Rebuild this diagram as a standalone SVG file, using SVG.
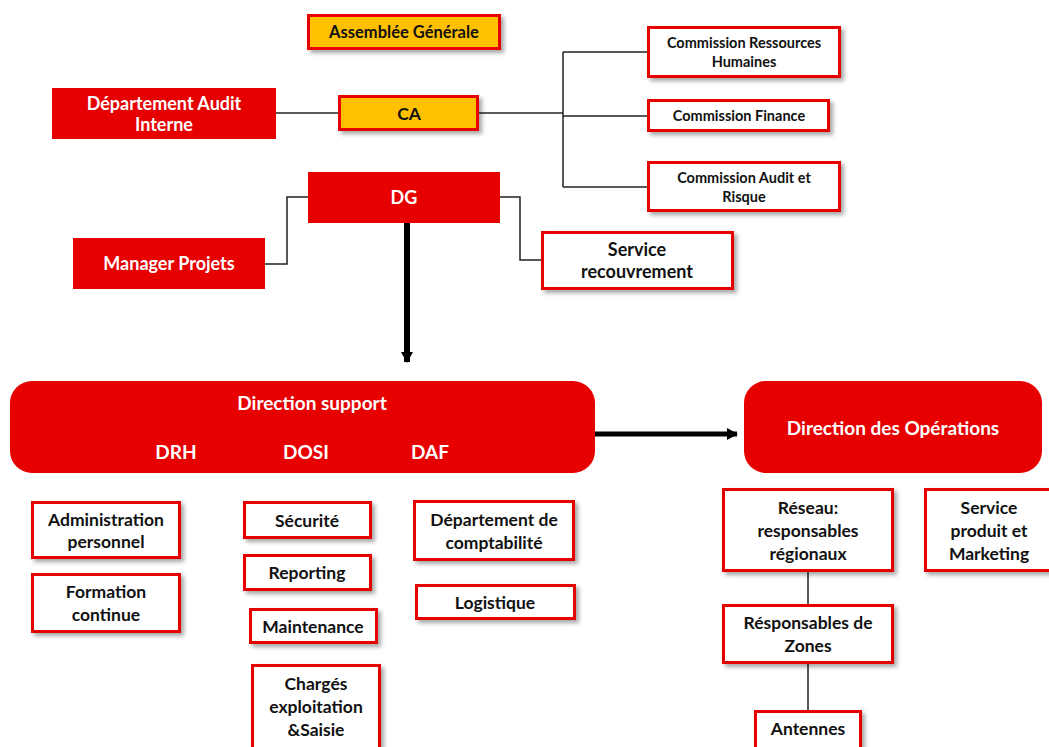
<svg xmlns="http://www.w3.org/2000/svg" width="1049" height="747" viewBox="0 0 1049 747">
<defs>
<style>
text{font-family:Lato,"Open Sans","Liberation Sans",sans-serif;font-weight:700;text-anchor:middle;}
.w{fill:#fff;}
.k{fill:#111;}
.f13{font-size:14.5px;}
.f15{font-size:16.5px;}
.f16{font-size:17.5px;}
.f18{font-size:18px;}
.f17{font-size:19px;}
.red{fill:#e60000;}
.box{fill:#fff;stroke:#e60000;stroke-width:3;filter:url(#sh);}
.gold{fill:#ffc000;stroke:#e60000;stroke-width:3;filter:url(#sh);}
.ln{fill:none;stroke:#222;stroke-width:1.5;}
.thick{fill:none;stroke:#000;}
</style>
<filter id="sh" x="-10%" y="-10%" width="130%" height="140%">
<feDropShadow dx="3" dy="3" stdDeviation="2" flood-color="#000" flood-opacity="0.35"/>
</filter>
<marker id="ah" markerUnits="userSpaceOnUse" markerWidth="14" markerHeight="14" refX="10" refY="7" orient="auto">
<path d="M0,1 L11,7 L0,13 Z" fill="#000"/>
</marker>
</defs>

<g id="connectors">
<path class="ln" d="M276 113 H338"/>
<path class="ln" d="M479 113 H563"/>
<path class="ln" d="M563 52 V187"/>
<path class="ln" d="M563 52 H648"/>
<path class="ln" d="M563 116 H648"/>
<path class="ln" d="M563 187 H648"/>
<path class="ln" d="M308 197 H287 V264 H265"/>
<path class="ln" d="M500 197 H520 V260 H541"/>
<path class="ln" d="M808 572 V604"/>
<path class="ln" d="M808 664 V710"/>
<path class="thick" stroke-width="6" d="M407 223 V362" marker-end="url(#ah)"/>
<path class="thick" stroke-width="5" d="M595 434 H737" marker-end="url(#ah)"/>
</g>

<g id="assemblee"><rect class="gold" x="308.5" y="15.5" width="191" height="33"/><text class="k f15" x="404" y="38">Assemblée Générale</text></g>
<g id="audit-interne"><rect class="red" x="52" y="88" width="224" height="51"/><text class="w f18" x="164" y="109.5">Département Audit</text><text class="w f18" x="164" y="130.5">Interne</text></g>
<g id="ca"><rect class="gold" x="339.5" y="96.5" width="138" height="33"/><text class="k f16" x="409" y="119.5">CA</text></g>
<g id="comm-rh"><rect class="box" x="648.5" y="27.5" width="191" height="49"/><text class="k f13" x="744" y="48">Commission Ressources</text><text class="k f13" x="744" y="66.5">Humaines</text></g>
<g id="comm-finance"><rect class="box" x="648.5" y="100.5" width="180" height="30"/><text class="k f13" x="739" y="121">Commission Finance</text></g>
<g id="comm-audit"><rect class="box" x="648.5" y="162.5" width="191" height="48"/><text class="k f13" x="744" y="183">Commission Audit et</text><text class="k f13" x="744" y="201.5">Risque</text></g>
<g id="dg"><rect class="red" x="308" y="172" width="192" height="51"/><text class="w f18" x="404" y="204">DG</text></g>
<g id="manager"><rect class="red" x="73" y="238" width="192" height="51"/><text class="w f18" x="169" y="270">Manager Projets</text></g>
<g id="recouvrement"><rect class="box" x="542.5" y="232.5" width="190" height="56"/><text class="k f18" x="637" y="256">Service</text><text class="k f18" x="637" y="278">recouvrement</text></g>

<g id="direction-support"><rect class="red" x="10" y="381" width="585" height="92" rx="22"/><text class="w f17" x="312" y="409.5">Direction support</text><text class="w f17" x="176" y="458.5">DRH</text><text class="w f17" x="306" y="458.5">DOSI</text><text class="w f17" x="430" y="458.5">DAF</text></g>
<g id="direction-operations"><rect class="red" x="744" y="381" width="298" height="92" rx="22"/><text class="w f17" x="893" y="434.5">Direction des Opérations</text></g>

<g id="admin-personnel"><rect class="box" x="32.5" y="502.5" width="147" height="55"/><text class="k f16" x="106" y="526">Administration</text><text class="k f16" x="106" y="548">personnel</text></g>
<g id="formation"><rect class="box" x="32.5" y="574.5" width="147" height="57"/><text class="k f16" x="106" y="598">Formation</text><text class="k f16" x="106" y="621">continue</text></g>
<g id="securite"><rect class="box" x="244.5" y="502.5" width="126" height="35"/><text class="k f16" x="307" y="527">Sécurité</text></g>
<g id="reporting"><rect class="box" x="244.5" y="555.5" width="126" height="34"/><text class="k f16" x="307" y="579">Reporting</text></g>
<g id="maintenance"><rect class="box" x="250.5" y="609.5" width="126" height="33"/><text class="k f16" x="313" y="633">Maintenance</text></g>
<g id="charges"><rect class="box" x="252.5" y="665.5" width="127" height="85"/><text class="k f16" x="316" y="690">Chargés</text><text class="k f16" x="316" y="713">exploitation</text><text class="k f16" x="316" y="736">&amp;Saisie</text></g>
<g id="comptabilite"><rect class="box" x="414.5" y="501.5" width="159" height="58"/><text class="k f16" x="494" y="526">Département de</text><text class="k f16" x="494" y="549">comptabilité</text></g>
<g id="logistique"><rect class="box" x="416.5" y="585.5" width="158" height="33"/><text class="k f16" x="495" y="609">Logistique</text></g>
<g id="reseau"><rect class="box" x="723.5" y="489.5" width="169" height="81"/><text class="k f16" x="808" y="514">Réseau:</text><text class="k f16" x="808" y="537">responsables</text><text class="k f16" x="808" y="560">régionaux</text></g>
<g id="service-produit"><rect class="box" x="925.5" y="489.5" width="126" height="81"/><text class="k f16" x="989" y="514">Service</text><text class="k f16" x="989" y="537">produit et</text><text class="k f16" x="989" y="560">Marketing</text></g>
<g id="zones"><rect class="box" x="723.5" y="605.5" width="169" height="57"/><text class="k f16" x="808" y="629">Résponsables de</text><text class="k f16" x="808" y="652">Zones</text></g>
<g id="antennes"><rect class="box" x="755.5" y="711.5" width="105" height="40"/><text class="k f16" x="808" y="735">Antennes</text></g>
</svg>
